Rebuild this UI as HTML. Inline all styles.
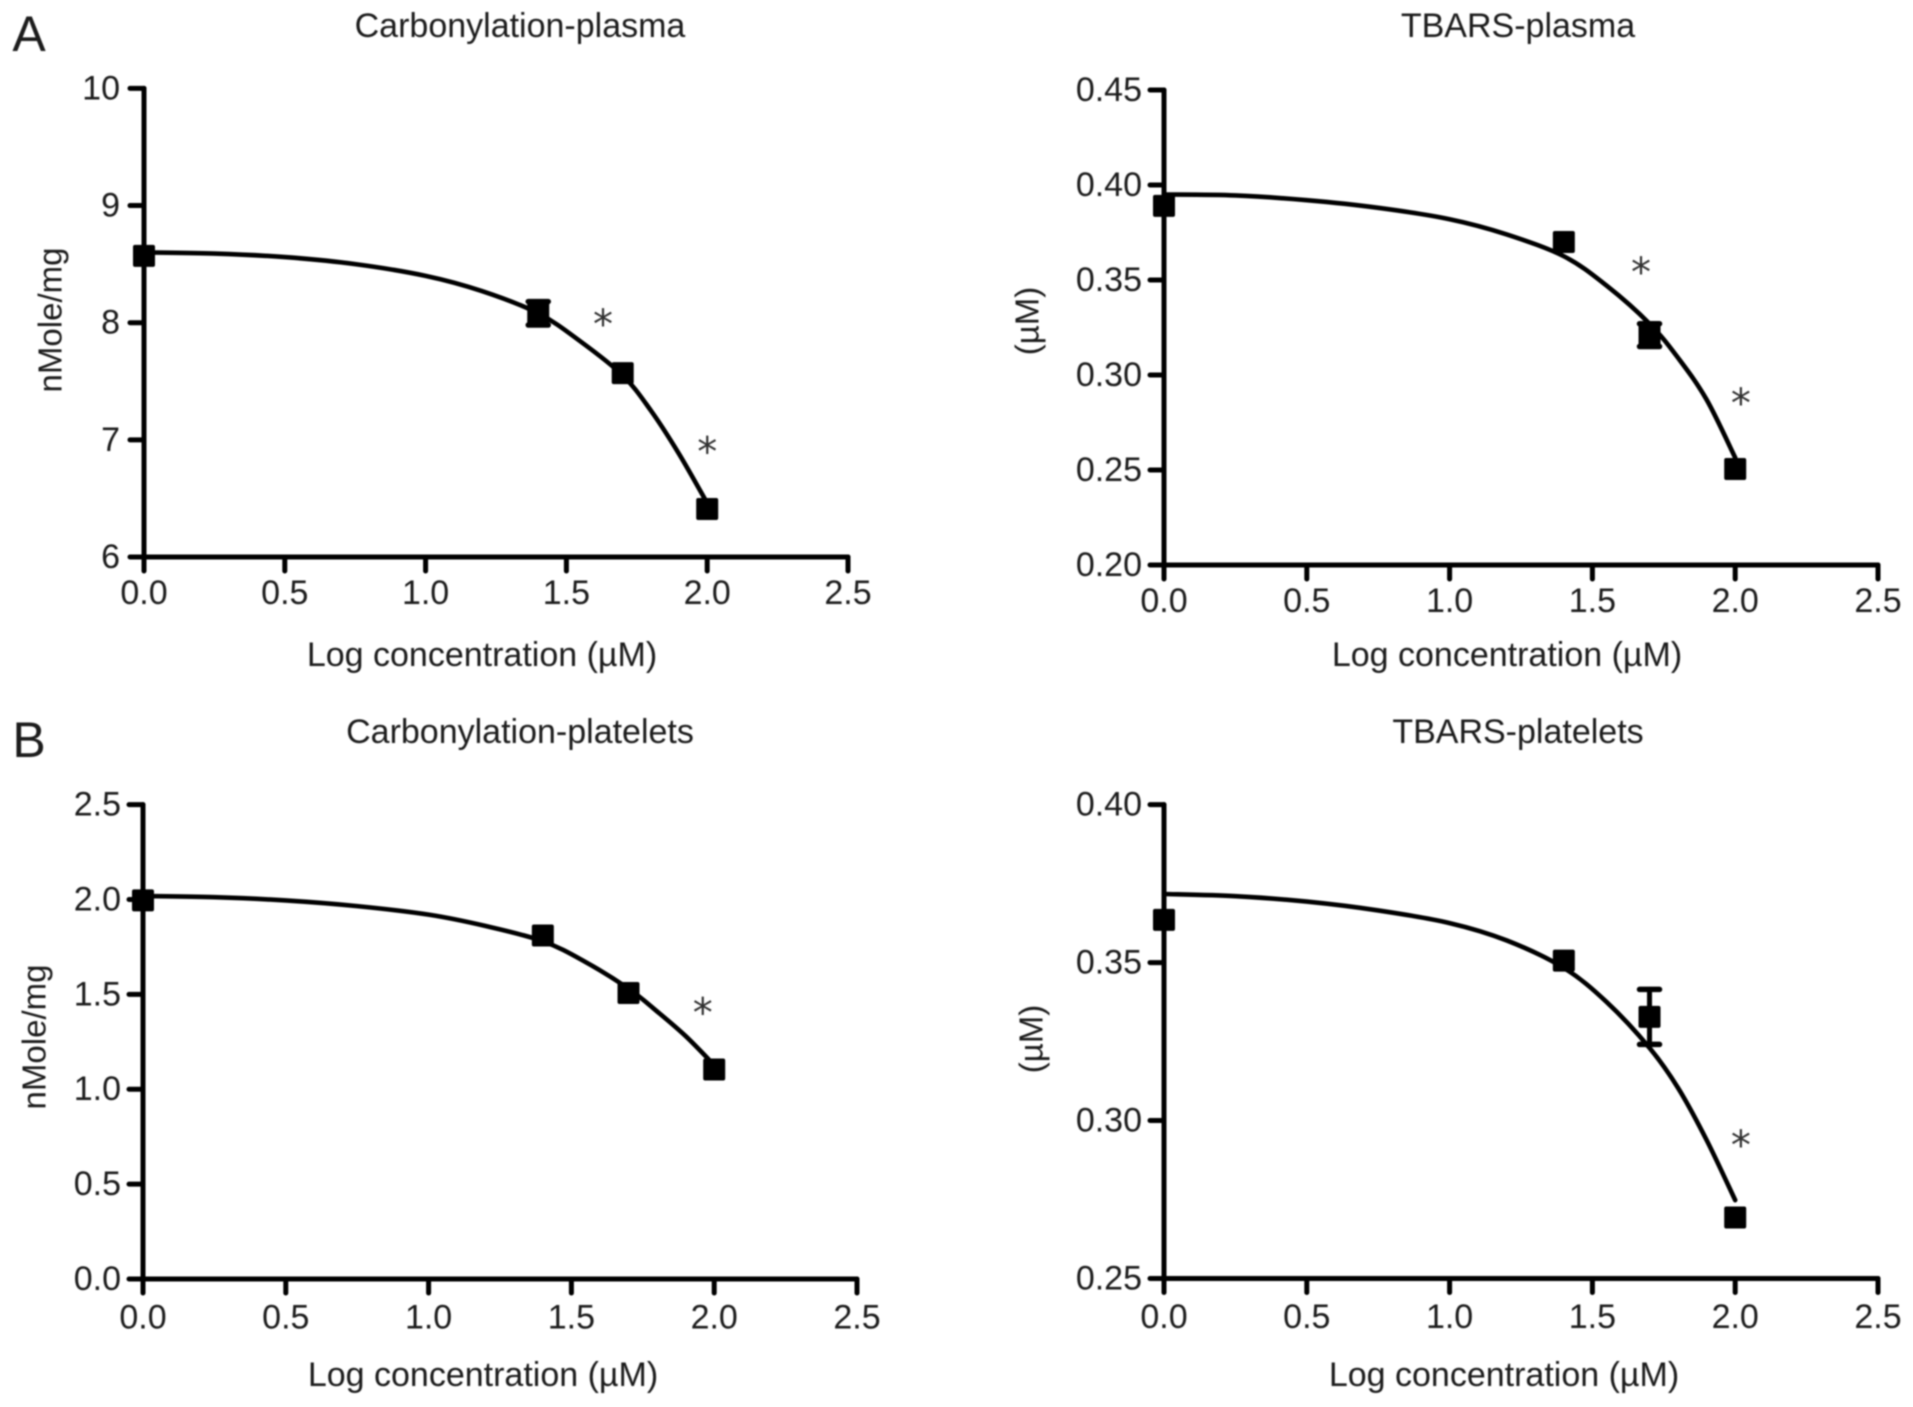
<!DOCTYPE html>
<html lang="en">
<head>
<meta charset="utf-8">
<title>Log concentration response curves</title>
<style>
html,body{margin:0;padding:0;background:#fff;width:1913px;height:1407px;overflow:hidden}
svg{display:block}
text{font-family:"Liberation Sans",sans-serif;fill:#1c1c1c}
</style>
</head>
<body>
<svg id="figure" xmlns="http://www.w3.org/2000/svg" width="1913" height="1407" viewBox="0 0 1913 1407">
  <defs><filter id="soft" x="-5%" y="-5%" width="110%" height="110%"><feGaussianBlur stdDeviation="0.8"/></filter></defs>
  <rect width="1913" height="1407" fill="#fff"/>
  <g id="root" filter="url(#soft)"></g>
</svg>
<script>
// shared data
const markerConc = [0, 1.4, 1.7, 2.0];
const curveConc = [0, 0.25, 0.5, 0.75, 1, 1.2, 1.4, 1.55, 1.7, 1.8, 1.9, 2];
const xTickLabels = ['0.0', '0.5', '1.0', '1.5', '2.0', '2.5'];

// Carbonylation-plasma
const carbPlasmaTicks = ['6', '7', '8', '9', '10'];
const carbPlasmaMeans = [8.57, 8.08, 7.57, 6.41];
const carbPlasmaErrors = [0, 0.1, 0, 0];
const carbPlasmaCurve = [8.6, 8.59, 8.56, 8.5, 8.4, 8.27, 8.08, 7.84, 7.55, 7.25, 6.88, 6.46];
const carbPlasmaStarX = [1.63, 2.0];
const carbPlasmaStarY = [8.05, 6.96];

// TBARS-plasma
const tbarsPlasmaTicks = ['0.20', '0.25', '0.30', '0.35', '0.40', '0.45'];
const tbarsPlasmaMeans = [0.389, 0.37, 0.321, 0.2505];
const tbarsPlasmaErrors = [0, 0, 0.006, 0];
const tbarsPlasmaCurve = [0.395, 0.3945, 0.392, 0.388, 0.382, 0.374, 0.3625, 0.347, 0.327, 0.309, 0.287, 0.2565];
const tbarsPlasmaStarX = [1.67, 2.02];
const tbarsPlasmaStarY = [0.358, 0.289];

// Carbonylation-platelets
const carbPlateletTicks = ['0.0', '0.5', '1.0', '1.5', '2.0', '2.5'];
const carbPlateletMeans = [1.995, 1.81, 1.507, 1.104];
const carbPlateletErrors = [0, 0, 0, 0];
const carbPlateletCurve = [2.018, 2.012, 1.995, 1.965, 1.92, 1.86, 1.78, 1.67, 1.53, 1.41, 1.28, 1.127];
const carbPlateletStarX = [1.96];
const carbPlateletStarY = [1.44];

// TBARS-platelets
const tbarsPlateletTicks = ['0.25', '0.30', '0.35', '0.40'];
const tbarsPlateletMeans = [0.3635, 0.3506, 0.3328, 0.2693];
const tbarsPlateletErrors = [0, 0, 0.0087, 0];
const tbarsPlateletCurve = [0.3717, 0.371, 0.3693, 0.3665, 0.3625, 0.357, 0.3483, 0.3375, 0.323, 0.3103, 0.2938, 0.2748];
const tbarsPlateletStarX = [2.02];
const tbarsPlateletStarY = [0.2945];

const SVGNS = 'http://www.w3.org/2000/svg';
const root = document.getElementById('root');

function make(tag, parent, name) {
  const el = document.createElementNS(SVGNS, tag);
  
  
  parent.appendChild(el);
  return el;
}
function label(parent, name, str, x, y, size, anchor, rotate) {
  const t = make('text', parent, name);
  t.textContent = str;
  t.setAttribute('x', x);
  t.setAttribute('y', y);
  t.setAttribute('font-size', size);
  t.setAttribute('text-anchor', anchor || 'middle');
  t.setAttribute('dominant-baseline', 'central');
  if (rotate) t.setAttribute('transform', 'rotate(' + rotate + ' ' + x + ' ' + y + ')');
  return t;
}
function seg(parent, name, x1, y1, x2, y2, w) {
  const l = make('line', parent, name);
  l.setAttribute('x1', x1); l.setAttribute('y1', y1);
  l.setAttribute('x2', x2); l.setAttribute('y2', y2);
  l.setAttribute('stroke', '#000');
  l.setAttribute('stroke-width', w);
  l.setAttribute('stroke-linecap', 'round');
  return l;
}
function smoothPath(pts) {
  let d = 'M' + pts[0][0] + ' ' + pts[0][1];
  for (let i = 0; i < pts.length - 1; i++) {
    const p0 = pts[Math.max(i - 1, 0)], p1 = pts[i], p2 = pts[i + 1], p3 = pts[Math.min(i + 2, pts.length - 1)];
    d += 'C' + (p1[0] + (p2[0] - p0[0]) / 6) + ' ' + (p1[1] + (p2[1] - p0[1]) / 6) + ' ' +
         (p2[0] - (p3[0] - p1[0]) / 6) + ' ' + (p2[1] - (p3[1] - p1[1]) / 6) + ' ' + p2[0] + ' ' + p2[1];
  }
  return d;
}

function drawPanel(key, box, title, yTitle, yTicks, means, errors, curve, starX, starY) {
  const g = make('g', root, key + '-panel');
  const yMin = parseFloat(yTicks[0]);
  const yMax = parseFloat(yTicks[yTicks.length - 1]);
  const sx = v => box.left + (v / 2.5) * (box.right - box.left);
  const sy = v => box.bottom - ((v - yMin) / (yMax - yMin)) * (box.bottom - box.top);

  label(g, key + '-title', title, box.titleX, box.titleY, 34);
  label(g, key + '-y-axis-title', yTitle, box.yTitleX, box.yTitleY, 33, 'middle', -90);
  label(g, key + '-x-axis-title', 'Log concentration (\u00B5M)', box.xTitleX, box.xTitleY, 34);

  const axisY = make('g', g, key + '-y-axis');
  seg(axisY, key + '-y-axis-line', box.left, box.top, box.left, box.bottom, 5);
  yTicks.forEach(t => {
    const v = parseFloat(t);
    seg(axisY, key + '-y-tick-' + t, box.left - 14, sy(v), box.left, sy(v), 5);
    label(axisY, key + '-y-tick-label-' + t, t, box.left - box.labelGap, sy(v), 34, 'end');
  });

  const axisX = make('g', g, key + '-x-axis');
  seg(axisX, key + '-x-axis-line', box.left, box.bottom, box.right, box.bottom, 5);
  xTickLabels.forEach(t => {
    const v = parseFloat(t);
    seg(axisX, key + '-x-tick-' + t, sx(v), box.bottom, sx(v), box.bottom + 14, 5);
    label(axisX, key + '-x-tick-label-' + t, t, sx(v), box.bottom + box.tickLabelGap, 34);
  });

  const line = make('path', g, key + '-fit-curve');
  line.setAttribute('d', smoothPath(curveConc.map((c, i) => [sx(c), sy(curve[i])])));
  line.setAttribute('fill', 'none');
  line.setAttribute('stroke', '#000');
  line.setAttribute('stroke-width', 4.6);
  line.setAttribute('stroke-linecap', 'round');

  markerConc.forEach((c, i) => {
    const m = make('rect', g, key + '-marker-' + c);
    m.setAttribute('x', sx(c) - 11);
    m.setAttribute('y', sy(means[i]) - 11);
    m.setAttribute('width', 22);
    m.setAttribute('height', 22);
    m.setAttribute('rx', 2);
    m.setAttribute('fill', '#000');
    if (errors[i] > 0) {
      const top = sy(means[i] + errors[i]), bot = sy(means[i] - errors[i]);
      seg(g, key + '-error-bar-' + c, sx(c), top, sx(c), bot, 5);
      seg(g, key + '-error-cap-high-' + c, sx(c) - 10, top, sx(c) + 10, top, 5.5);
      seg(g, key + '-error-cap-low-' + c, sx(c) - 10, bot, sx(c) + 10, bot, 5.5);
    }
  });

  starX.forEach((sxv, i) => {
    const s = label(g, key + '-significance-star-' + i, '*', sx(sxv), sy(starY[i]) + 8, 40);
    s.setAttribute('style', 'font-family:"DejaVu Sans",sans-serif;fill:#333');
  });
}

label(root, 'panel-letter-a', 'A', 29, 34, 50);
label(root, 'panel-letter-b', 'B', 29, 740, 50);

drawPanel('carbonylation-plasma',
  {left: 144, right: 848, top: 88.4, bottom: 557, titleX: 520, titleY: 26, yTitleX: 50, yTitleY: 320, xTitleX: 482, xTitleY: 655, labelGap: 24, tickLabelGap: 36},
  'Carbonylation-plasma', 'nMole/mg', carbPlasmaTicks, carbPlasmaMeans, carbPlasmaErrors, carbPlasmaCurve, carbPlasmaStarX, carbPlasmaStarY);

drawPanel('tbars-plasma',
  {left: 1164, right: 1878, top: 90, bottom: 565, titleX: 1518, titleY: 26, yTitleX: 1027, yTitleY: 321, xTitleX: 1507, xTitleY: 655, labelGap: 22, tickLabelGap: 36},
  'TBARS-plasma', '(\u00B5M)', tbarsPlasmaTicks, tbarsPlasmaMeans, tbarsPlasmaErrors, tbarsPlasmaCurve, tbarsPlasmaStarX, tbarsPlasmaStarY);

drawPanel('carbonylation-platelets',
  {left: 143, right: 857, top: 804.6, bottom: 1279, titleX: 520, titleY: 732, yTitleX: 34, yTitleY: 1037, xTitleX: 483, xTitleY: 1375, labelGap: 22, tickLabelGap: 38.5},
  'Carbonylation-platelets', 'nMole/mg', carbPlateletTicks, carbPlateletMeans, carbPlateletErrors, carbPlateletCurve, carbPlateletStarX, carbPlateletStarY);

drawPanel('tbars-platelets',
  {left: 1164, right: 1878, top: 804.6, bottom: 1278.5, titleX: 1518, titleY: 732, yTitleX: 1031, yTitleY: 1039, xTitleX: 1504, xTitleY: 1375, labelGap: 22, tickLabelGap: 38.5},
  'TBARS-platelets', '(\u00B5M)', tbarsPlateletTicks, tbarsPlateletMeans, tbarsPlateletErrors, tbarsPlateletCurve, tbarsPlateletStarX, tbarsPlateletStarY);
</script>
</body>
</html>
